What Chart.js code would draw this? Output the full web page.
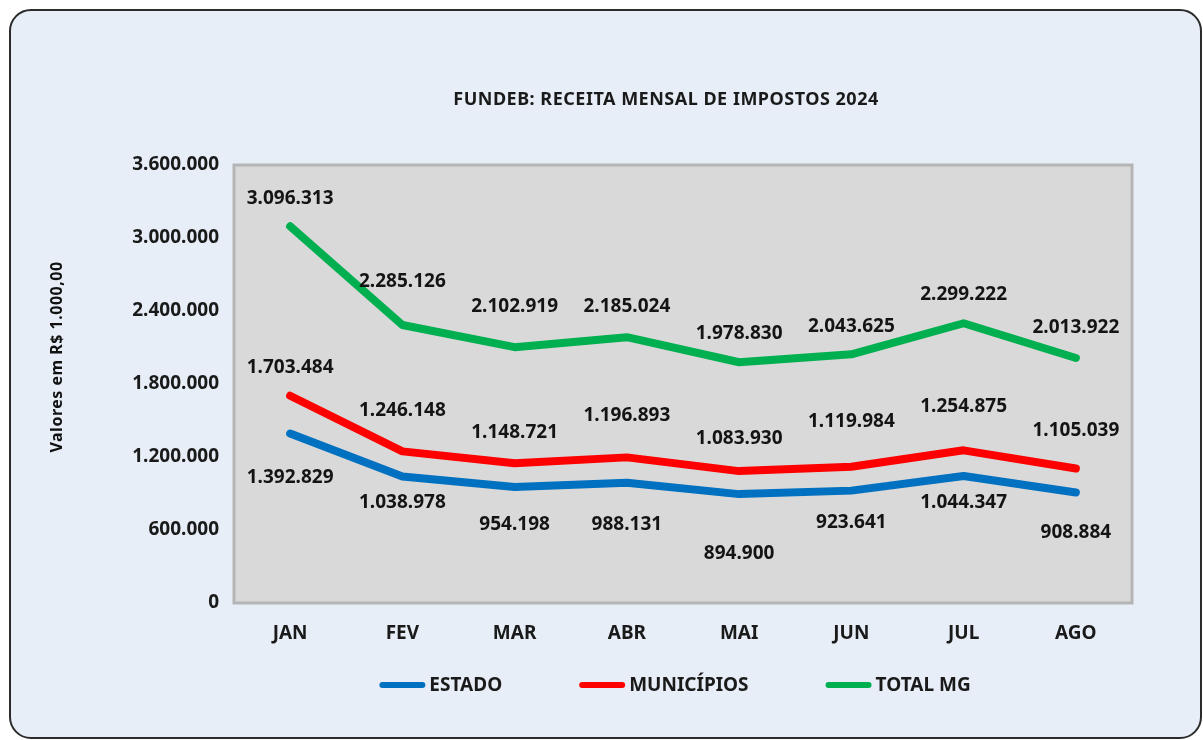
<!DOCTYPE html>
<html>
<head>
<meta charset="utf-8">
<script src="https://cdn.jsdelivr.net/npm/chart.js@4.4.1/dist/chart.umd.min.js"></script>
<style>
    html, body { margin: 0; padding: 0; background: #ffffff; }
    #frame {
        position: absolute; left: 9px; top: 9px; width: 1189px; height: 726px;
        border: 2px solid #2b2b2b; border-radius: 22px; background: #e7eef7;
    }
    #wrap { position: absolute; left: 0; top: 0; width: 1203px; height: 740px; }
</style>
</head>
<body>
<div id="frame"></div>
<div id="wrap"><canvas id="receitaChart"></canvas></div>
<script>
// dados (R$ 1.000,00)
const meses = ['JAN', 'FEV', 'MAR', 'ABR', 'MAI', 'JUN', 'JUL', 'AGO'];
const estado = [1392829, 1038978, 954198, 988131, 894900, 923641, 1044347, 908884];
const municipios = [1703484, 1246148, 1148721, 1196893, 1083930, 1119984, 1254875, 1105039];
const totalMG = [3096313, 2285126, 2102919, 2185024, 1978830, 2043625, 2299222, 2013922];
const yTicks = [0, 600000, 1200000, 1800000, 2400000, 3000000, 3600000];

const FONT = "'Noto Sans', 'DejaVu Sans', sans-serif";

function fmt(v) {
    return String(v).replace(/\B(?=(\d{3})+(?!\d))/g, '.');
}

// vertical offsets of the value labels, per series
const labelOffsets = [
    [44, 26, 38, 42, 59, 32, 27, 40],
    [-28, -41, -31, -42, -33, -45, -44, -38],
    [-28, -43, -41, -31, -29, -28, -29, -30]
];

// gray plot background with frame
const plotArea = {
    id: 'plotArea',
    beforeDatasetsDraw(chart) {
        const { ctx, chartArea: a } = chart;
        ctx.save();
        ctx.fillStyle = '#d9d9d9';
        ctx.fillRect(a.left, a.top, a.width, a.height);
        ctx.strokeStyle = '#b5b5b5';
        ctx.lineWidth = 3;
        ctx.strokeRect(a.left, a.top, a.width, a.height);
        ctx.restore();
    }
};

// value labels next to each point
const valueLabels = {
    id: 'valueLabels',
    afterDatasetsDraw(chart) {
        const ctx = chart.ctx;
        ctx.save();
        ctx.font = 'bold 19px ' + FONT;
        ctx.fillStyle = '#141414';
        ctx.textAlign = 'center';
        ctx.textBaseline = 'middle';
        chart.data.datasets.forEach(function (ds, i) {
            chart.getDatasetMeta(i).data.forEach(function (pt, j) {
                ctx.fillText(fmt(ds.data[j]), pt.x, pt.y + labelOffsets[i][j]);
            });
        });
        ctx.restore();
    }
};

// title, y axis title and line legend
const extras = {
    id: 'extras',
    afterDraw(chart) {
        const { ctx, chartArea: a } = chart;

        ctx.save();
        ctx.fillStyle = '#1a1a1a';
        ctx.font = 'bold 18px ' + FONT;
        ctx.letterSpacing = '0.5px';
        ctx.textAlign = 'center';
        ctx.textBaseline = 'middle';
        ctx.fillText('FUNDEB: RECEITA MENSAL DE IMPOSTOS 2024', (a.left + a.right) / 2 - 17, a.top - 65);
        ctx.restore();

        ctx.save();
        ctx.fillStyle = '#111';
        ctx.font = 'bold 16px ' + FONT;
        ctx.letterSpacing = '0.5px';
        ctx.textAlign = 'center';
        ctx.textBaseline = 'middle';
        ctx.translate(a.left - 177, a.top + 192);
        ctx.rotate(-Math.PI / 2);
        ctx.fillText('Valores em R$ 1.000,00', 0, 0);
        ctx.restore();

        ctx.save();
        ctx.font = 'bold 19px ' + FONT;
        ctx.textBaseline = 'middle';
        const items = chart.data.datasets;
        const lineW = 46, gap = 4, between = 77;
        let total = 0;
        items.forEach(function (ds, i) {
            total += lineW + gap + ctx.measureText(ds.label).width + (i < items.length - 1 ? between : 0);
        });
        let x = (a.left + a.right) / 2 - 8 - total / 2;
        const y = 685;
        items.forEach(function (ds) {
            ctx.strokeStyle = ds.borderColor;
            ctx.lineWidth = 6;
            ctx.lineCap = 'round';
            ctx.beginPath();
            ctx.moveTo(x + 3, y);
            ctx.lineTo(x + lineW - 3, y);
            ctx.stroke();
            ctx.fillStyle = '#1a1a1a';
            ctx.fillText(ds.label, x + lineW + gap, y + 1);
            x += lineW + gap + ctx.measureText(ds.label).width + between;
        });
        ctx.restore();
    }
};

const lineStyle = {
    borderWidth: 8,
    pointRadius: 0,
    pointHoverRadius: 0,
    tension: 0,
    fill: false,
    borderCapStyle: 'round',
    borderJoinStyle: 'round'
};

const ctx = document.getElementById('receitaChart').getContext('2d');
new Chart(ctx, {
    type: 'line',
    data: {
        labels: meses,
        datasets: [
            Object.assign({ label: 'ESTADO', data: estado, borderColor: '#0070c0' }, lineStyle),
            Object.assign({ label: 'MUNICÍPIOS', data: municipios, borderColor: '#ff0000' }, lineStyle),
            Object.assign({ label: 'TOTAL MG', data: totalMG, borderColor: '#00b050' }, lineStyle)
        ]
    },
    options: {
        responsive: true,
        maintainAspectRatio: false,
        animation: false,
        layout: { padding: { left: 46, right: 71, top: 165, bottom: 77 } },
        plugins: {
            legend: { display: false },
            tooltip: { enabled: false },
            title: { display: false }
        },
        scales: {
            x: {
                offset: true,
                grid: { display: false },
                border: { display: false },
                ticks: {
                    color: '#1a1a1a',
                    padding: 11,
                    font: { family: FONT, size: 19, weight: 'bold' }
                },
                afterFit: function (scale) { scale.height = 60; }
            },
            y: {
                min: 0,
                max: 3600000,
                grid: { display: false },
                border: { display: false },
                afterBuildTicks: function (scale) {
                    scale.ticks = yTicks.map(function (v) { return { value: v }; });
                },
                ticks: {
                    color: '#1a1a1a',
                    padding: 7,
                    font: { family: FONT, size: 19, weight: 'bold' },
                    callback: function (value) { return fmt(value); }
                },
                afterFit: function (scale) { scale.width = 188; }
            }
        }
    },
    plugins: [plotArea, valueLabels, extras]
});
</script>
</body>
</html>
